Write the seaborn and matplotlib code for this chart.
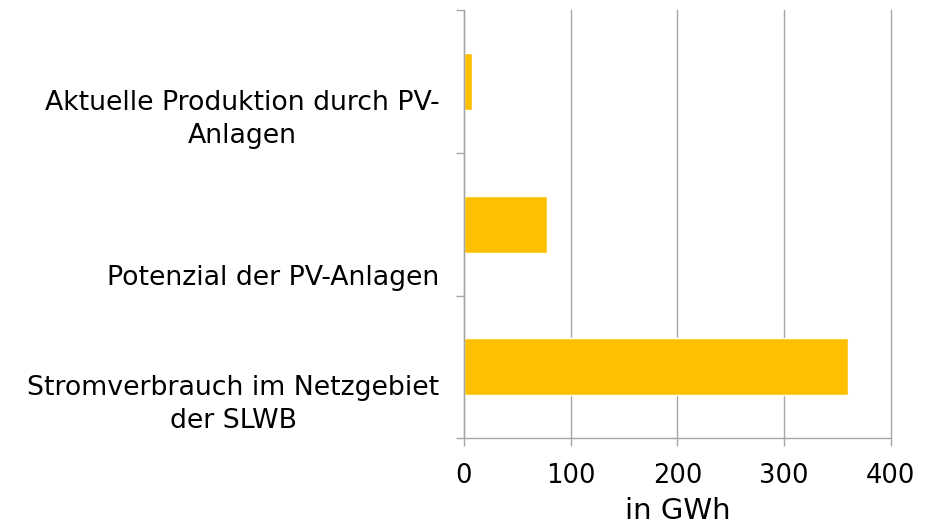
import matplotlib
matplotlib.use("Agg")
import matplotlib.pyplot as plt
import seaborn as sns
import pandas as pd

categories = ["Aktuelle Produktion durch PV-\nAnlagen",
              "Potenzial der PV-Anlagen",
              "Stromverbrauch im Netzgebiet\nder SLWB"]
values = [7.5, 78, 360]
x_ticks = [0, 100, 200, 300, 400]
x_label = "in GWh"

sns.set_theme(style="white")
plt.rcParams['font.family'] = ['DejaVu Sans']

df = pd.DataFrame({"cat": categories, "val": values})

fig = plt.figure(figsize=(9.27, 5.24), dpi=100)
ax = fig.add_axes([0.5005, 0.1636, 0.4603, 0.8173])

sns.barplot(data=df, x="val", y="cat", orient="h", color="#FFC000",
            width=0.4, saturation=1, ax=ax)

ax.set_xlim(0, 400)
ax.set_ylim(2.5, -0.5)
ax.set_xticks(x_ticks)
ax.set_xticklabels([str(t) for t in x_ticks], fontsize=18.5)
ax.set_yticks([-0.5, 0.5, 1.5, 2.5])
ax.set_yticklabels([])
ax.set_ylabel("")
ax.set_xlabel(x_label, fontsize=21, labelpad=6, color="black")

gray = "#A6A6A6"
ax.grid(axis="x", color=gray, linewidth=1)
for gl in ax.get_xgridlines():
    gl.set_clip_on(False)
ax.set_axisbelow(True)
for s in ["top", "right"]:
    ax.spines[s].set_visible(False)
for s in ["left", "bottom"]:
    ax.spines[s].set_color(gray)
    ax.spines[s].set_linewidth(1)
ax.tick_params(axis="both", which="both", direction="out", length=6,
               width=1, color=gray, left=True, bottom=True, pad=11.5,
               labelcolor="black")

label_offsets = [0.27, 0.38, 0.265]
trans = matplotlib.transforms.blended_transform_factory(ax.transAxes, ax.transData)
for i, (c, off) in enumerate(zip(categories, label_offsets)):
    ax.text(-0.058, i + off, c, transform=trans, ha="right", va="center",
            multialignment="center", fontsize=19.3, color="black",
            linespacing=1.35)

fig.savefig("out.png", dpi=100)
